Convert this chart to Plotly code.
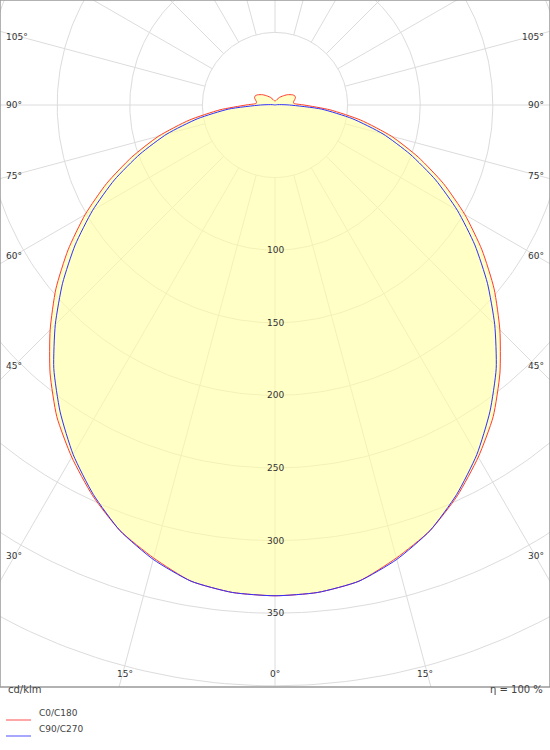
import numpy as np
import plotly.graph_objects as go

# photometric intensity, cd/klm, gamma angle 0 = straight down
GAMMA = [0, 5, 10, 15, 20, 25, 30, 35, 40, 45, 50, 55, 60, 65, 70, 75, 80, 85, 90,
         95, 100, 105, 110, 115, 120, 130, 140, 150, 160, 170, 180]
C0_C180 = [338, 337, 333, 323, 312, 297, 280, 262, 241, 219, 197, 174, 151, 128, 105, 83, 60, 38, 20,
           13, 13, 14, 15, 15, 14, 11, 8, 6, 4, 3, 3]
C90_C270 = [338, 337, 333, 324, 312, 296, 278, 258, 237, 214, 191, 168, 145, 122, 99, 77, 54, 32, 10,
            3, 1, 0, 0, 0, 0, 0, 0, 0, 0, 0, 0]
RINGS = [50, 100, 150, 200, 250, 300, 350, 400, 450, 500, 550]
RING_LABELS = [100, 150, 200, 250, 300, 350]
SIDE_ANGLES = [105, 90, 75, 60, 45, 30]
BOTTOM_ANGLES = [15, 0]

S = 50 / 72.6                      # units per pixel
XR = 275 * S
YTOP, YBOT = 105 * S, -582 * S


def xy(g, r):
    a = np.radians(g)
    return r * np.sin(a), -r * np.cos(a)


def curve(vals):
    g = np.array(GAMMA + [360 - v for v in GAMMA[::-1]], float)
    r = np.array(vals + vals[::-1], float)
    return xy(g, r)


fig = go.Figure()
GRID = "#dcdcdc"
# rings
gx, gy = [], []
t = np.linspace(0, 360, 361)
for rr in RINGS:
    x, y = xy(t, rr)
    gx += list(x) + [None]; gy += list(y) + [None]
for g in range(0, 360, 15):
    x, y = xy(np.array([g, g]), np.array([50, 700]))
    gx += list(x) + [None]; gy += list(y) + [None]
fig.add_trace(go.Scatter(x=gx, y=gy, mode="lines", line=dict(color=GRID, width=1), hoverinfo="skip"))

rx, ry = curve(C0_C180)
bx, by = curve(C90_C270)
fig.add_trace(go.Scatter(x=rx, y=ry, mode="lines", fill="toself", fillcolor="rgba(255,255,160,0.6)",
                         line=dict(color="#ff3b30", width=1, shape="spline", smoothing=0.6), name="C0/C180"))
fig.add_trace(go.Scatter(x=bx, y=by, mode="lines",
                         line=dict(color="#3030ff", width=1, shape="spline", smoothing=0.6), name="C90/C270"))

ann = []
F = dict(family="DejaVu Sans", size=9, color="#333")
for v in RING_LABELS:
    ann.append(dict(x=0, y=-v, text=str(v), showarrow=False, font=F, yshift=0))
side_py = {105: 37, 90: 105, 75: 176, 60: 256, 45: 366, 30: 556}
for g in SIDE_ANGLES:
    py = (105 - side_py[g]) * S
    ann.append(dict(x=-XR, y=py, text=f"{g}°", showarrow=False, font=F, xanchor="left", xshift=4))
    ann.append(dict(x=XR, y=py, text=f"{g}°", showarrow=False, font=F, xanchor="right", xshift=-4))
for g in BOTTOM_ANGLES:
    x, _ = xy(g, 400)
    for sx in ([x] if g == 0 else [-x, x]):
        ann.append(dict(x=sx, y=-569 * S, text=f"{g}°", showarrow=False, font=F))

G = dict(family="DejaVu Sans", size=10, color="#444")
pv = lambda py: (687 - py) / 687
ann.append(dict(xref="paper", yref="paper", x=0.01, y=pv(697), text="cd/klm", showarrow=False,
                font=G, xanchor="left"))
ann.append(dict(xref="paper", yref="paper", x=0.99, y=pv(697), text="η = 100 %", showarrow=False,
                font=G, xanchor="right"))
shapes = []
for py, col, lab in [(720, "#ff8a8a", "C0/C180"), (736, "#8a8aff", "C90/C270")]:
    shapes.append(dict(type="line", xref="paper", yref="paper", x0=6 / 550, x1=31 / 550,
                       y0=pv(py), y1=pv(py), line=dict(color=col, width=1.5)))
    ann.append(dict(xref="paper", yref="paper", x=37 / 550, y=pv(py), text=lab, showarrow=False,
                    font=dict(family="DejaVu Sans", size=9, color="#444"), xanchor="left"))

fig.update_layout(
    width=550, height=750, margin=dict(l=0, r=0, t=0, b=63), showlegend=False,
    paper_bgcolor="white", plot_bgcolor="white", annotations=ann, shapes=shapes,
    xaxis=dict(range=[-XR, XR], visible=False, fixedrange=True),
    yaxis=dict(range=[YBOT, YTOP], visible=False, fixedrange=True),
)
fig.add_shape(type="rect", xref="paper", yref="paper", x0=0, x1=1, y0=0, y1=1,
              line=dict(color="#999", width=1.5))
fig.write_html("out.html", config={"displayModeBar": False},
               post_script="document.body.style.margin='0';document.body.style.overflow='hidden';")
